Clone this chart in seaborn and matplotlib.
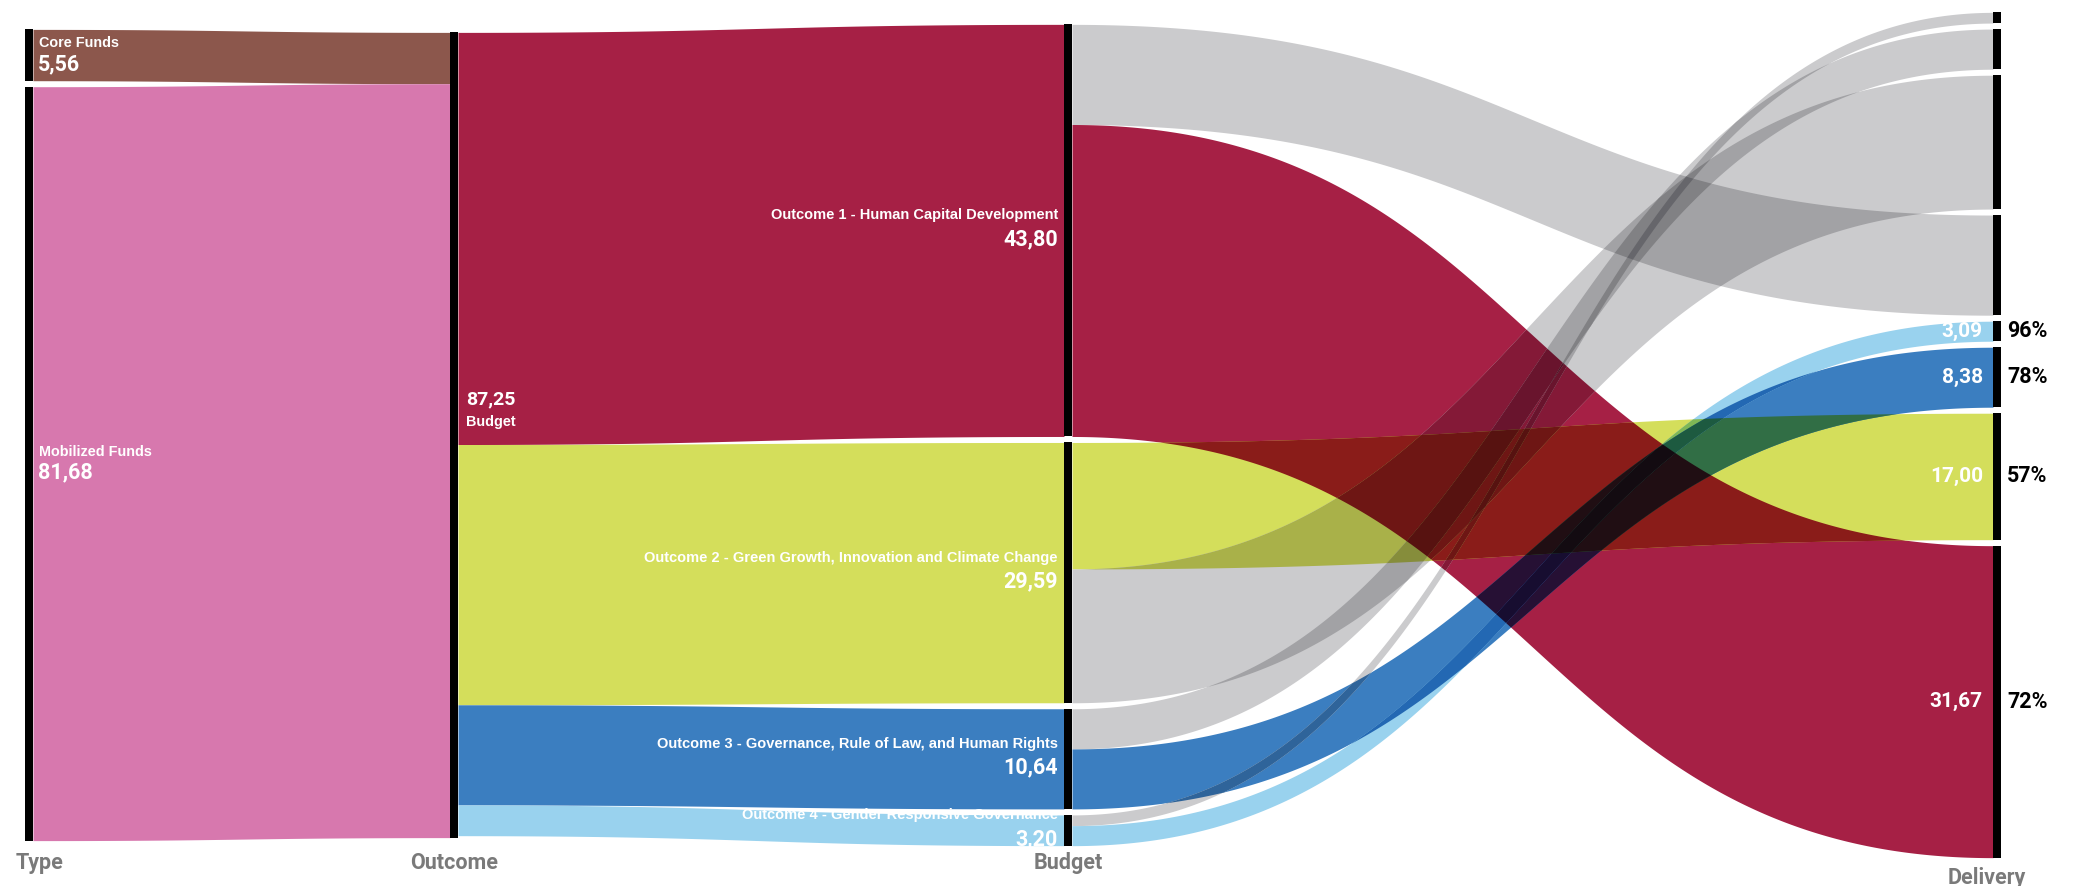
import numpy as np
import matplotlib
matplotlib.use("Agg")
import matplotlib.pyplot as plt
import seaborn as sns
from itertools import combinations
from matplotlib.colors import to_rgb

# ---------------- data ----------------
type_names = ["Core Funds", "Mobilized Funds"]
type_values = [5.56, 81.68]
type_labels = ["5,56", "81,68"]

budget_name = "Budget"
budget_label = "87,25"

outcome_names = [
    "Outcome 1 - Human Capital Development",
    "Outcome 2 - Green Growth, Innovation and Climate Change",
    "Outcome 3 - Governance, Rule of Law, and Human Rights",
    "Outcome 4 - Gender Responsive Governance",
]
outcome_labels = ["43,80", "29,59", "10,64", "3,20"]

delivered_labels = ["31,67", "17,00", "8,38", "3,09"]
delivered_pct = ["72%", "57%", "78%", "96%"]

# flow widths as drawn in the reference (budget -> delivery)
delivered_flow = [33.8, 13.7, 6.5, 2.17]
remaining_flow = [10.85, 14.5, 4.35, 1.16]

stage_names = ["Type", "Outcome", "Budget", "Delivery"]

# ---------------- style ----------------
type_colors = ["#8C574C", "#D778AE"]
outcome_colors = ["#A62045", "#D4DE5B", "#3B7EC0", "#99D2EE"]
gray = "#CBCBCD"
remaining_on_top = [True, False, True, True]

sns.set_theme(style="white")
plt.rcParams["font.family"] = ["Liberation Sans", "DejaVu Sans"]
name_font = ["Liberation Sans", "DejaVu Sans"]
value_font = ["Roboto", "DejaVu Sans"]

W, H = 2075, 886
fig = plt.figure(figsize=(W / 100, H / 100), dpi=100)
ax = fig.add_axes([0, 0, 1, 1])
ax.set_xlim(0, W)
ax.set_ylim(H, 0)
ax.axis("off")

col_x = [25, 450, 1064, 1993]
bar_w = 8
k = 9.23      # px per unit
gap = 6.0
yc = 435


def stack(values):
    total = sum(values) * k + gap * (len(values) - 1)
    y = yc - total / 2
    out = []
    for v in values:
        h = v * k
        out.append([y, y + h])
        y += h + gap
    return out


# bezier shape (horizontal sankey link)
_t = np.linspace(0, 1, 4001)
_xu = 1.5 * _t - 1.5 * _t ** 2 + _t ** 3
_yu = 3 * _t ** 2 - 2 * _t ** 3


def band(x0, x1, s0, s1, n=900):
    x = np.linspace(x0, x1, n)
    u = (x - x0) / (x1 - x0)
    s = np.interp(u, _xu, _yu)
    top = s0[0] + (s1[0] - s0[0]) * s
    bot = s0[1] + (s1[1] - s0[1]) * s
    return x, top, bot


def draw_gap(links):
    """links: list of (x, top, bot, color); overlaps blended by multiply."""
    n = len(links)
    x = links[0][0]
    cols = [np.array(to_rgb(l[3])) for l in links]
    for size in range(1, n + 1):
        for combo in combinations(range(n), size):
            lo = np.max([links[i][1] for i in combo], axis=0)
            hi = np.min([links[i][2] for i in combo], axis=0)
            mask = hi - lo > 1e-6
            if not mask.any():
                continue
            c = np.prod([cols[i] for i in combo], axis=0)
            ax.fill_between(x, lo, hi, where=mask, interpolate=True,
                            color=tuple(c), lw=0, antialiased=True)


# ---------------- layout ----------------
type_nodes = stack(type_values)
budget_values = [d + r for d, r in zip(delivered_flow, remaining_flow)]
outcome_node = stack([max(sum(type_values), sum(budget_values))])[0]
budget_nodes = stack(budget_values)
deliv_order = [("r", 3), ("r", 2), ("r", 1), ("r", 0),
               ("d", 3), ("d", 2), ("d", 1), ("d", 0)]
deliv_values = [remaining_flow[i] if kind == "r" else delivered_flow[i]
                for kind, i in deliv_order]
deliv_nodes = stack(deliv_values)
deliv_index = {key: j for j, key in enumerate(deliv_order)}

# gap 1: type -> outcome
links = []
cur = outcome_node[0]
for i, v in enumerate(type_values):
    tgt = [cur, cur + v * k]
    cur += v * k
    links.append((*band(col_x[0] + bar_w, col_x[1], type_nodes[i], tgt), type_colors[i]))
draw_gap(links)

# gap 2: outcome -> budget
links = []
cur = outcome_node[0]
for j, v in enumerate(budget_values):
    src = [cur, cur + v * k]
    cur += v * k
    links.append((*band(col_x[1] + bar_w, col_x[2], src, budget_nodes[j]), outcome_colors[j]))
draw_gap(links)

# gap 3: budget -> delivery
links = []
for j in range(4):
    parts = [("r", remaining_flow[j]), ("d", delivered_flow[j])]
    if not remaining_on_top[j]:
        parts = parts[::-1]
    cur = budget_nodes[j][0]
    for kind, v in parts:
        src = [cur, cur + v * k]
        cur += v * k
        tgt = deliv_nodes[deliv_index[(kind, j)]]
        color = gray if kind == "r" else outcome_colors[j]
        links.append((*band(col_x[2] + bar_w, col_x[3], src, tgt), color))
draw_gap(links)


# ---------------- node bars ----------------
def bars(x, nodes):
    tops = [n[0] for n in nodes]
    hs = [n[1] - n[0] for n in nodes]
    ax.bar([x + bar_w / 2] * len(nodes), hs, bottom=tops, width=bar_w,
           color="black", linewidth=0, align="center")


bars(col_x[0], type_nodes)
bars(col_x[1], [outcome_node])
bars(col_x[2], budget_nodes)
bars(col_x[3], deliv_nodes)

# ---------------- labels ----------------
for i, nd in enumerate(type_nodes):
    c = (nd[0] + nd[1]) / 2
    ax.text(col_x[0] + bar_w + 6, c - 12, type_names[i], color="white",
            fontsize=10.4, fontweight="bold", family=name_font, ha="left", va="center")
    ax.text(col_x[0] + bar_w + 5, c + 9, type_labels[i], color="white",
            fontsize=15.5, fontweight="bold", family=value_font, ha="left", va="center")

c = (outcome_node[0] + outcome_node[1]) / 2
ax.text(col_x[1] + bar_w + 8, c - 36, budget_label, color="white",
        fontsize=14, fontweight="bold", family=value_font, ha="left", va="center")
ax.text(col_x[1] + bar_w + 8, c - 13, budget_name, color="white",
        fontsize=10.4, fontweight="bold", family=name_font, ha="left", va="center")

for j, nd in enumerate(budget_nodes):
    c = (nd[0] + nd[1]) / 2
    ax.text(col_x[2] - 6, c - 15, outcome_names[j], color="white",
            fontsize=10.5, fontweight="bold", family=name_font, ha="right", va="center")
    ax.text(col_x[2] - 6, c + 9, outcome_labels[j], color="white",
            fontsize=15.5, fontweight="bold", family=value_font, ha="right", va="center")

for j in range(4):
    nd = deliv_nodes[deliv_index[("d", j)]]
    c = (nd[0] + nd[1]) / 2
    ax.text(col_x[3] - 10, c, delivered_labels[j], color="white",
            fontsize=15, fontweight="bold", family=value_font, ha="right", va="center")
    ax.text(col_x[3] + bar_w + 6, c, delivered_pct[j], color="black",
            fontsize=15.5, fontweight="bold", family=value_font, ha="left", va="center")

stage_pos = [(16, 863, "left"), (col_x[1] + bar_w / 2, 863, "center"),
             (col_x[2] + bar_w / 2, 863, "center"), (col_x[3] - 6, 878, "center")]
for name, (x, y, ha) in zip(stage_names, stage_pos):
    ax.text(x, y, name, color="#7A7A7A", fontsize=15.5, fontweight="bold",
            family=value_font, ha=ha, va="center")

fig.savefig("out.png", dpi=100, facecolor="white")
